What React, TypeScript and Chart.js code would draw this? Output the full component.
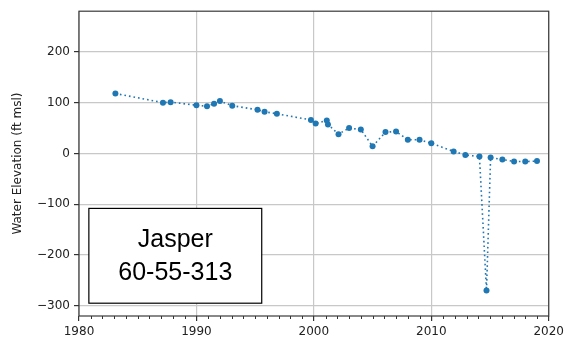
import React, { useEffect, useRef } from "react";
import { Chart, registerables } from "chart.js";

Chart.register(...registerables);

const years = [1983.1, 1987.15, 1987.8, 1990.0, 1990.9, 1991.5, 1992.0, 1993.05, 1995.2, 1995.8, 1996.85, 1999.75, 2000.15, 2001.1, 2001.2, 2002.1, 2003.0, 2004.0, 2005.0, 2006.1, 2007.0, 2008.0, 2009.0, 2010.0, 2011.9, 2012.9, 2014.1, 2014.7, 2015.05, 2016.05, 2017.05, 2018.0, 2019.0];
const elevations = [118, 100, 101, 95, 93, 98, 103, 94, 86, 82, 78, 66, 59, 65, 57, 38, 50, 47, 14, 42, 43, 27, 27, 20, 4, -3, -6, -270, -8, -12, -16, -16, -15];
const yTickValues = [-300, -200, -100, 0, 100, 200];
const boxLines = ["Jasper", "60-55-313"];
const yTitle = "Water Elevation (ft msl)";

const BLUE = "#1f77b4";
const TICK_FONT = { family: "DejaVu Sans", size: 12 };

const framePlugin = {
  id: "frame",
  afterDraw(chart: any) {
    const { ctx, chartArea: a, scales } = chart;
    ctx.save();
    const xs = scales.x;
    ctx.strokeStyle = "#333";
    ctx.lineWidth = 1;
    for (let yr = 1980; yr <= 2020; yr++) {
      if (yr % 10 === 0) continue;
      const px = Math.round(xs.getPixelForValue(yr)) + 0.5;
      ctx.beginPath();
      ctx.moveTo(px, a.bottom);
      ctx.lineTo(px, a.bottom + 3);
      ctx.stroke();
    }
    ctx.strokeStyle = "#3a3a3a";
    ctx.lineWidth = 1.2;
    ctx.strokeRect(a.left, a.top, a.right - a.left, a.bottom - a.top);
    const w = a.right - a.left;
    const h = a.bottom - a.top;
    const bx = a.left + 0.021 * w;
    const bx2 = a.left + 0.389 * w;
    const by = a.top + 0.647 * h;
    const by2 = a.top + 0.958 * h;
    ctx.fillStyle = "#fff";
    ctx.fillRect(bx, by, bx2 - bx, by2 - by);
    ctx.strokeStyle = "#000";
    ctx.lineWidth = 1.2;
    ctx.strokeRect(bx, by, bx2 - bx, by2 - by);
    ctx.fillStyle = "#000";
    ctx.font = "25px 'Liberation Sans'";
    ctx.textAlign = "center";
    ctx.textBaseline = "middle";
    const cx = (bx + bx2) / 2;
    const cy = (by + by2) / 2;
    ctx.fillText(boxLines[0], cx, cy - 16);
    ctx.fillText(boxLines[1], cx, cy + 17);
    ctx.restore();
  },
};

const fmt = (v: any) => (Number(v) < 0 ? "\u2212" + Math.abs(Number(v)) : String(v));

export default function App() {
  const ref = useRef<HTMLCanvasElement>(null);
  useEffect(() => {
    document.body.style.margin = "0";
    const points = years.map((x, i) => ({ x, y: elevations[i] }));
    const chart = new Chart(ref.current!, {
      type: "scatter",
      data: {
        datasets: [
          {
            data: points,
            showLine: true,
            borderColor: BLUE,
            backgroundColor: BLUE,
            borderWidth: 1.6,
            borderDash: [1.6, 3],
            pointRadius: 3,
            pointHoverRadius: 3,
            pointBorderWidth: 0,
          },
        ],
      },
      options: {
        animation: false,
        responsive: false,
        maintainAspectRatio: false,
        layout: { padding: { top: 10, right: 19, left: 0, bottom: 0 } },
        plugins: { legend: { display: false }, tooltip: { enabled: false } },
        scales: {
          x: {
            type: "linear",
            min: 1980,
            max: 2020,
            border: { display: false },
            ticks: {
              stepSize: 10,
              font: TICK_FONT,
              color: "#222",
              padding: 4,
              maxRotation: 0,
              callback: (v: any) => String(v),
            },
            grid: { color: "#c8c8c8", lineWidth: 1.2, tickColor: "#333", tickLength: 5, drawTicks: true },
            afterFit: (s: any) => { s.height = 27; },
          },
          y: {
            min: -320,
            max: 280,
            border: { display: false },
            afterBuildTicks: (s: any) => {
              s.ticks = yTickValues.map((v) => ({ value: v }));
            },
            ticks: { font: TICK_FONT, color: "#222", padding: 4, callback: fmt },
            grid: { color: "#c8c8c8", lineWidth: 1.2, tickColor: "#333", tickLength: 5, drawTicks: true },
            title: {
              display: true,
              text: yTitle,
              font: { family: "DejaVu Sans", size: 12 },
              color: "#222",
              padding: { top: 11, bottom: 0 },
            },
            afterFit: (s: any) => { s.width = 79; },
          },
        },
      },
      plugins: [framePlugin],
    });
    return () => chart.destroy();
  }, []);
  return (
    <div style={{ width: 568, height: 343 }}>
      <canvas ref={ref} width={568} height={343} style={{ display: "block" }} />
    </div>
  );
}
